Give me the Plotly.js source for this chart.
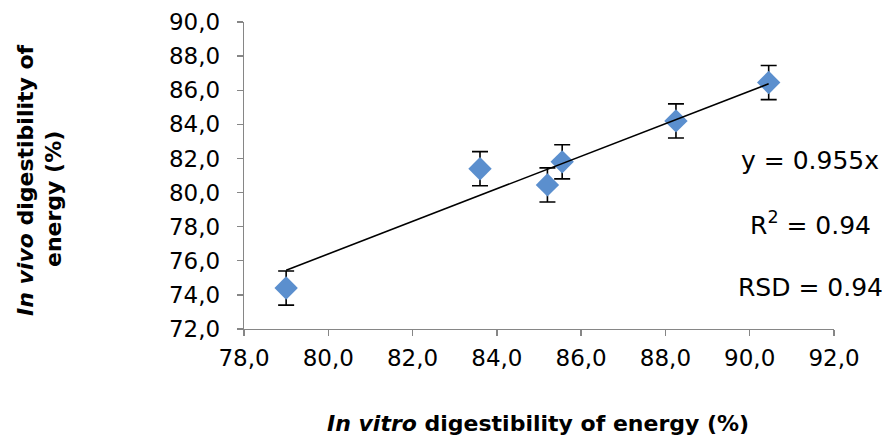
<!DOCTYPE html>
<html>
<head>
<meta charset="utf-8">
<script src="https://cdn.plot.ly/plotly-3.0.1.min.js"></script>
<style>html,body{margin:0;padding:0;background:#fff;}#chart{width:886px;height:443px;}</style>
</head>
<body>
<div id="chart"></div>
<script>
// Data
const inVitro = [79.0, 83.6, 85.2, 85.55, 88.25, 90.45];
const inVivo  = [74.4, 81.4, 80.45, 81.8, 84.2, 86.45];
const errors  = [1.0, 1.0, 1.0, 1.0, 1.0, 1.0];
const slope = 0.955;
const eqLabel = 'y = 0.955x';
const r2Label = 'R<sup>2</sup> = 0.94';
const rsdLabel = 'RSD = 0.94';

const xMin = Math.min(...inVitro), xMax = Math.max(...inVitro);
const trendX = [xMin, xMax];
const trendY = trendX.map(v => slope * v);

const tickFont = {family: 'DejaVu Sans', size: 23, color: '#000'};
const noteFont = {family: 'DejaVu Sans', size: 25, color: '#000'};
const titleFont = {family: 'DejaVu Sans', size: 22, color: '#000'};

const data = [
  {
    x: inVitro, y: inVivo, type: 'scatter', mode: 'markers',
    marker: {symbol: 'diamond', size: 18, color: '#5b8fce', line: {width: 0}},
    error_y: {type: 'data', array: errors, visible: true, color: '#000', thickness: 1.6, width: 8},
    hoverinfo: 'skip', showlegend: false
  },
  {
    x: trendX, y: trendY, type: 'scatter', mode: 'lines',
    line: {color: '#000', width: 1.6}, hoverinfo: 'skip', showlegend: false
  }
];

const layout = {
  width: 886, height: 443,
  margin: {l: 244, r: 52, t: 22, b: 114},
  paper_bgcolor: '#fff', plot_bgcolor: '#fff',
  separators: ', ',
  showlegend: false,
  xaxis: {
    range: [78, 92], dtick: 2, tick0: 78, tickformat: '.1f',
    showgrid: false, zeroline: false,
    showline: true, linecolor: '#868686', linewidth: 1.3,
    ticks: 'outside', ticklen: 6, tickcolor: '#868686', tickwidth: 1.3,
    tickfont: tickFont, ticklabelstandoff: 2
  },
  yaxis: {
    range: [72, 90], dtick: 2, tick0: 72, tickformat: '.1f',
    showgrid: false, zeroline: false,
    showline: true, linecolor: '#868686', linewidth: 1.3,
    ticks: 'outside', ticklen: 6, tickcolor: '#868686', tickwidth: 1.3,
    tickfont: tickFont, ticklabelstandoff: 12
  },
  annotations: [
    {text: '<b><i>In vivo</i> digestibility of</b>', xref: 'paper', yref: 'paper',
     x: (25 - 244) / 590, y: (329 - 180) / 307, xanchor: 'center', yanchor: 'middle',
     textangle: -90, showarrow: false, font: titleFont},
    {text: '<b>energy (%)</b>', xref: 'paper', yref: 'paper',
     x: (53 - 244) / 590, y: (329 - 199) / 307, xanchor: 'center', yanchor: 'middle',
     textangle: -90, showarrow: false, font: titleFont},
    {text: '<b><i>In vitro</i> digestibility of energy (%)</b>', xref: 'paper', yref: 'paper',
     x: (538 - 244) / 590, y: (329 - 423) / 307, xanchor: 'center', yanchor: 'middle',
     showarrow: false, font: titleFont},
    {text: eqLabel, xref: 'paper', yref: 'paper', x: (810 - 244) / 590, y: (329 - 160) / 307,
     xanchor: 'center', yanchor: 'middle', showarrow: false, font: noteFont},
    {text: r2Label, xref: 'paper', yref: 'paper', x: (810 - 244) / 590, y: (329 - 223) / 307,
     xanchor: 'center', yanchor: 'middle', showarrow: false, font: noteFont},
    {text: rsdLabel, xref: 'paper', yref: 'paper', x: (810 - 244) / 590, y: (329 - 287) / 307,
     xanchor: 'center', yanchor: 'middle', showarrow: false, font: noteFont}
  ]
};

Plotly.newPlot('chart', data, layout, {staticPlot: true, displayModeBar: false});
</script>
</body>
</html>
